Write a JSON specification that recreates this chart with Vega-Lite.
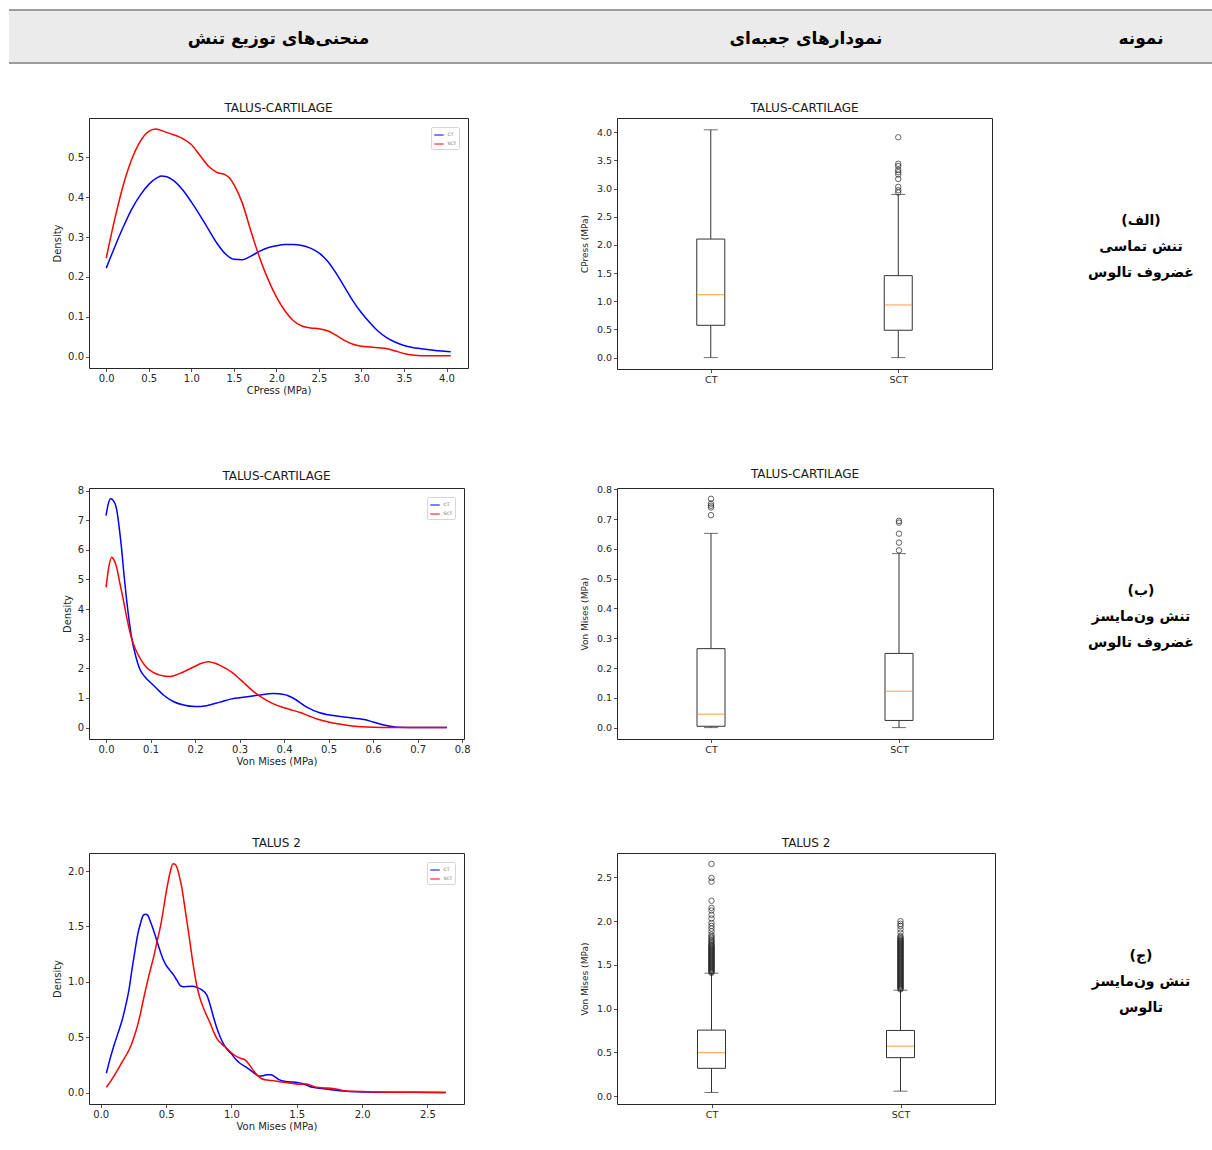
{
  "$schema": "https://vega.github.io/schema/vega-lite/v6.json",
  "padding": {"left": 8, "top": 9, "right": 0, "bottom": 0},
  "bounds": "flush",
  "align": "each",
  "columns": 6,
  "spacing": {"row": 55, "column": 0},
  "resolve": {"scale": {"color": "independent"}, "legend": {"color": "independent"}},
  "config": {
    "font": "DejaVu Sans",
    "view": {"stroke": null},
    "axis": {
      "labelFont": "DejaVu Sans", "labelFontSize": 10, "labelColor": "#262626",
      "titleFont": "DejaVu Sans", "titleFontSize": 10, "titleFontWeight": "normal", "titleColor": "#262626",
      "tickColor": "#262626", "tickSize": 3.5, "tickWidth": 0.8, "labelPadding": 2,
      "domain": false, "grid": false
    },
    "axisX": {"titlePadding": 2},
    "axisY": {"titlePadding": 5},
    "title": {"font": "DejaVu Sans", "fontSize": 12, "fontWeight": "normal", "color": "#1a1a1a", "offset": 3, "frame": "group", "anchor": "middle"},
    "legend": {
      "orient": "top-right", "offset": 9, "title": null, "symbolType": "stroke", "symbolSize": 90,
      "symbolStrokeWidth": 1, "labelFontSize": 4.5, "labelColor": "#555", "padding": 2.5, "rowPadding": 1,
      "strokeColor": "#d6d6d6", "fillColor": "white", "cornerRadius": 1.5, "labelOffset": 3
    }
  },
  "datasets": {
    "edges": [{"e": 0}, {"e": 1}],
    "cells": [
      {"cell": "h1", "t": "منحنی‌های توزیع تنش"},
      {"cell": "h3", "t": "نمودارهای جعبه‌ای"},
      {"cell": "h5", "t": "نمونه"},
      {"cell": "r1", "t": "(الف)\nتنش تماسی\nغضروف تالوس"},
      {"cell": "r2", "t": "(ب)\nتنش ون‌مایسز\nغضروف تالوس"},
      {"cell": "r3", "t": "(ج)\nتنش ون‌مایسز\nتالوس"}
    ],
    "d1": [
      {"s": "CT", "x": 0, "y": 0.222}, {"s": "CT", "x": 0.1, "y": 0.275}, {"s": "CT", "x": 0.2, "y": 0.325}, {"s": "CT", "x": 0.3, "y": 0.37},
      {"s": "CT", "x": 0.4, "y": 0.405}, {"s": "CT", "x": 0.5, "y": 0.432}, {"s": "CT", "x": 0.6, "y": 0.449}, {"s": "CT", "x": 0.65, "y": 0.453},
      {"s": "CT", "x": 0.7, "y": 0.452}, {"s": "CT", "x": 0.8, "y": 0.44}, {"s": "CT", "x": 0.9, "y": 0.418}, {"s": "CT", "x": 1.0, "y": 0.388},
      {"s": "CT", "x": 1.1, "y": 0.355}, {"s": "CT", "x": 1.2, "y": 0.32}, {"s": "CT", "x": 1.3, "y": 0.285}, {"s": "CT", "x": 1.4, "y": 0.258},
      {"s": "CT", "x": 1.5, "y": 0.244}, {"s": "CT", "x": 1.6, "y": 0.243}, {"s": "CT", "x": 1.7, "y": 0.252}, {"s": "CT", "x": 1.8, "y": 0.264},
      {"s": "CT", "x": 1.9, "y": 0.273}, {"s": "CT", "x": 2.0, "y": 0.278}, {"s": "CT", "x": 2.1, "y": 0.281}, {"s": "CT", "x": 2.2, "y": 0.281},
      {"s": "CT", "x": 2.3, "y": 0.279}, {"s": "CT", "x": 2.4, "y": 0.272}, {"s": "CT", "x": 2.5, "y": 0.26}, {"s": "CT", "x": 2.6, "y": 0.24},
      {"s": "CT", "x": 2.7, "y": 0.21}, {"s": "CT", "x": 2.8, "y": 0.175}, {"s": "CT", "x": 2.9, "y": 0.14}, {"s": "CT", "x": 3.0, "y": 0.11},
      {"s": "CT", "x": 3.1, "y": 0.085}, {"s": "CT", "x": 3.2, "y": 0.063}, {"s": "CT", "x": 3.3, "y": 0.047}, {"s": "CT", "x": 3.4, "y": 0.036},
      {"s": "CT", "x": 3.5, "y": 0.028}, {"s": "CT", "x": 3.6, "y": 0.023}, {"s": "CT", "x": 3.7, "y": 0.02}, {"s": "CT", "x": 3.8, "y": 0.017},
      {"s": "CT", "x": 3.9, "y": 0.015}, {"s": "CT", "x": 4.05, "y": 0.012},
      {"s": "SCT", "x": 0, "y": 0.247}, {"s": "SCT", "x": 0.1, "y": 0.345}, {"s": "SCT", "x": 0.2, "y": 0.43}, {"s": "SCT", "x": 0.3, "y": 0.495},
      {"s": "SCT", "x": 0.4, "y": 0.54}, {"s": "SCT", "x": 0.5, "y": 0.565}, {"s": "SCT", "x": 0.58, "y": 0.571}, {"s": "SCT", "x": 0.7, "y": 0.563},
      {"s": "SCT", "x": 0.8, "y": 0.556}, {"s": "SCT", "x": 0.9, "y": 0.547}, {"s": "SCT", "x": 1.0, "y": 0.532}, {"s": "SCT", "x": 1.1, "y": 0.505},
      {"s": "SCT", "x": 1.2, "y": 0.478}, {"s": "SCT", "x": 1.3, "y": 0.462}, {"s": "SCT", "x": 1.4, "y": 0.456}, {"s": "SCT", "x": 1.45, "y": 0.448},
      {"s": "SCT", "x": 1.5, "y": 0.432}, {"s": "SCT", "x": 1.6, "y": 0.385}, {"s": "SCT", "x": 1.7, "y": 0.315}, {"s": "SCT", "x": 1.8, "y": 0.25},
      {"s": "SCT", "x": 1.9, "y": 0.195}, {"s": "SCT", "x": 2.0, "y": 0.15}, {"s": "SCT", "x": 2.1, "y": 0.115}, {"s": "SCT", "x": 2.2, "y": 0.09},
      {"s": "SCT", "x": 2.3, "y": 0.077}, {"s": "SCT", "x": 2.4, "y": 0.072}, {"s": "SCT", "x": 2.5, "y": 0.07}, {"s": "SCT", "x": 2.6, "y": 0.065},
      {"s": "SCT", "x": 2.7, "y": 0.054}, {"s": "SCT", "x": 2.8, "y": 0.041}, {"s": "SCT", "x": 2.9, "y": 0.031}, {"s": "SCT", "x": 3.0, "y": 0.026},
      {"s": "SCT", "x": 3.1, "y": 0.024}, {"s": "SCT", "x": 3.2, "y": 0.022}, {"s": "SCT", "x": 3.3, "y": 0.02}, {"s": "SCT", "x": 3.4, "y": 0.014},
      {"s": "SCT", "x": 3.5, "y": 0.008}, {"s": "SCT", "x": 3.6, "y": 0.004}, {"s": "SCT", "x": 3.7, "y": 0.002}, {"s": "SCT", "x": 4.05, "y": 0.002}
    ],
    "d2": [
      {"s": "CT", "x": 0, "y": 7.15}, {"s": "CT", "x": 0.005, "y": 7.55}, {"s": "CT", "x": 0.0105, "y": 7.72}, {"s": "CT", "x": 0.017, "y": 7.65},
      {"s": "CT", "x": 0.024, "y": 7.35}, {"s": "CT", "x": 0.03, "y": 6.7}, {"s": "CT", "x": 0.035, "y": 6.03}, {"s": "CT", "x": 0.04, "y": 5.2},
      {"s": "CT", "x": 0.046, "y": 4.34}, {"s": "CT", "x": 0.052, "y": 3.6}, {"s": "CT", "x": 0.058, "y": 2.99}, {"s": "CT", "x": 0.066, "y": 2.45},
      {"s": "CT", "x": 0.076, "y": 1.97}, {"s": "CT", "x": 0.088, "y": 1.7}, {"s": "CT", "x": 0.1, "y": 1.52}, {"s": "CT", "x": 0.115, "y": 1.3},
      {"s": "CT", "x": 0.129, "y": 1.1}, {"s": "CT", "x": 0.151, "y": 0.88}, {"s": "CT", "x": 0.174, "y": 0.76}, {"s": "CT", "x": 0.2, "y": 0.71},
      {"s": "CT", "x": 0.226, "y": 0.74}, {"s": "CT", "x": 0.256, "y": 0.86}, {"s": "CT", "x": 0.28, "y": 0.96}, {"s": "CT", "x": 0.3, "y": 1.01},
      {"s": "CT", "x": 0.339, "y": 1.09}, {"s": "CT", "x": 0.376, "y": 1.15}, {"s": "CT", "x": 0.4, "y": 1.12}, {"s": "CT", "x": 0.42, "y": 1.0},
      {"s": "CT", "x": 0.45, "y": 0.7}, {"s": "CT", "x": 0.48, "y": 0.5}, {"s": "CT", "x": 0.5, "y": 0.43}, {"s": "CT", "x": 0.54, "y": 0.35},
      {"s": "CT", "x": 0.58, "y": 0.27}, {"s": "CT", "x": 0.6, "y": 0.19}, {"s": "CT", "x": 0.63, "y": 0.07}, {"s": "CT", "x": 0.65, "y": 0.02},
      {"s": "CT", "x": 0.68, "y": 0.005}, {"s": "CT", "x": 0.72, "y": 0}, {"s": "CT", "x": 0.766, "y": 0},
      {"s": "SCT", "x": 0, "y": 4.73}, {"s": "SCT", "x": 0.006, "y": 5.4}, {"s": "SCT", "x": 0.0127, "y": 5.75}, {"s": "SCT", "x": 0.018, "y": 5.65},
      {"s": "SCT", "x": 0.024, "y": 5.4}, {"s": "SCT", "x": 0.03, "y": 4.95}, {"s": "SCT", "x": 0.039, "y": 4.3}, {"s": "SCT", "x": 0.046, "y": 3.75},
      {"s": "SCT", "x": 0.054, "y": 3.2}, {"s": "SCT", "x": 0.061, "y": 2.85}, {"s": "SCT", "x": 0.069, "y": 2.55}, {"s": "SCT", "x": 0.08, "y": 2.25},
      {"s": "SCT", "x": 0.091, "y": 2.03}, {"s": "SCT", "x": 0.105, "y": 1.87}, {"s": "SCT", "x": 0.121, "y": 1.77}, {"s": "SCT", "x": 0.144, "y": 1.72},
      {"s": "SCT", "x": 0.166, "y": 1.83}, {"s": "SCT", "x": 0.185, "y": 1.96}, {"s": "SCT", "x": 0.2, "y": 2.07}, {"s": "SCT", "x": 0.215, "y": 2.17},
      {"s": "SCT", "x": 0.23, "y": 2.22}, {"s": "SCT", "x": 0.245, "y": 2.17}, {"s": "SCT", "x": 0.256, "y": 2.1}, {"s": "SCT", "x": 0.27, "y": 1.99},
      {"s": "SCT", "x": 0.283, "y": 1.86}, {"s": "SCT", "x": 0.296, "y": 1.7}, {"s": "SCT", "x": 0.309, "y": 1.52}, {"s": "SCT", "x": 0.325, "y": 1.3},
      {"s": "SCT", "x": 0.339, "y": 1.13}, {"s": "SCT", "x": 0.357, "y": 0.95}, {"s": "SCT", "x": 0.376, "y": 0.8}, {"s": "SCT", "x": 0.4, "y": 0.67},
      {"s": "SCT", "x": 0.42, "y": 0.58}, {"s": "SCT", "x": 0.436, "y": 0.51}, {"s": "SCT", "x": 0.455, "y": 0.4}, {"s": "SCT", "x": 0.474, "y": 0.29},
      {"s": "SCT", "x": 0.5, "y": 0.19}, {"s": "SCT", "x": 0.52, "y": 0.13}, {"s": "SCT", "x": 0.541, "y": 0.08}, {"s": "SCT", "x": 0.565, "y": 0.04},
      {"s": "SCT", "x": 0.586, "y": 0.02}, {"s": "SCT", "x": 0.62, "y": 0.006}, {"s": "SCT", "x": 0.68, "y": 0}, {"s": "SCT", "x": 0.766, "y": 0}
    ],
    "d3": [
      {"s": "CT", "x": 0.043, "y": 0.175}, {"s": "CT", "x": 0.07, "y": 0.3}, {"s": "CT", "x": 0.1, "y": 0.42}, {"s": "CT", "x": 0.13, "y": 0.53},
      {"s": "CT", "x": 0.165, "y": 0.66}, {"s": "CT", "x": 0.19, "y": 0.78}, {"s": "CT", "x": 0.216, "y": 0.93}, {"s": "CT", "x": 0.24, "y": 1.12},
      {"s": "CT", "x": 0.267, "y": 1.32}, {"s": "CT", "x": 0.285, "y": 1.44}, {"s": "CT", "x": 0.305, "y": 1.53}, {"s": "CT", "x": 0.325, "y": 1.6},
      {"s": "CT", "x": 0.343, "y": 1.61}, {"s": "CT", "x": 0.36, "y": 1.6}, {"s": "CT", "x": 0.381, "y": 1.54}, {"s": "CT", "x": 0.4, "y": 1.48},
      {"s": "CT", "x": 0.419, "y": 1.41}, {"s": "CT", "x": 0.44, "y": 1.33}, {"s": "CT", "x": 0.457, "y": 1.27}, {"s": "CT", "x": 0.475, "y": 1.21},
      {"s": "CT", "x": 0.495, "y": 1.16}, {"s": "CT", "x": 0.525, "y": 1.11}, {"s": "CT", "x": 0.558, "y": 1.06}, {"s": "CT", "x": 0.585, "y": 1.01},
      {"s": "CT", "x": 0.609, "y": 0.965}, {"s": "CT", "x": 0.635, "y": 0.955}, {"s": "CT", "x": 0.66, "y": 0.958}, {"s": "CT", "x": 0.7, "y": 0.96},
      {"s": "CT", "x": 0.736, "y": 0.95}, {"s": "CT", "x": 0.77, "y": 0.93}, {"s": "CT", "x": 0.812, "y": 0.88}, {"s": "CT", "x": 0.84, "y": 0.78},
      {"s": "CT", "x": 0.863, "y": 0.68}, {"s": "CT", "x": 0.895, "y": 0.56}, {"s": "CT", "x": 0.926, "y": 0.47}, {"s": "CT", "x": 0.96, "y": 0.4},
      {"s": "CT", "x": 1.0, "y": 0.35}, {"s": "CT", "x": 1.033, "y": 0.3}, {"s": "CT", "x": 1.066, "y": 0.265}, {"s": "CT", "x": 1.105, "y": 0.235},
      {"s": "CT", "x": 1.142, "y": 0.205}, {"s": "CT", "x": 1.18, "y": 0.17}, {"s": "CT", "x": 1.218, "y": 0.148}, {"s": "CT", "x": 1.245, "y": 0.153},
      {"s": "CT", "x": 1.269, "y": 0.16}, {"s": "CT", "x": 1.3, "y": 0.16}, {"s": "CT", "x": 1.33, "y": 0.145}, {"s": "CT", "x": 1.36, "y": 0.12},
      {"s": "CT", "x": 1.396, "y": 0.105}, {"s": "CT", "x": 1.435, "y": 0.097}, {"s": "CT", "x": 1.472, "y": 0.095}, {"s": "CT", "x": 1.51, "y": 0.09},
      {"s": "CT", "x": 1.548, "y": 0.08}, {"s": "CT", "x": 1.59, "y": 0.06}, {"s": "CT", "x": 1.624, "y": 0.047}, {"s": "CT", "x": 1.69, "y": 0.036},
      {"s": "CT", "x": 1.75, "y": 0.028}, {"s": "CT", "x": 1.815, "y": 0.018}, {"s": "CT", "x": 1.878, "y": 0.011}, {"s": "CT", "x": 1.95, "y": 0.007},
      {"s": "CT", "x": 2.0, "y": 0.005}, {"s": "CT", "x": 2.1, "y": 0.004}, {"s": "CT", "x": 2.21, "y": 0.003}, {"s": "CT", "x": 2.4, "y": 0.002},
      {"s": "CT", "x": 2.64, "y": 0.001},
      {"s": "SCT", "x": 0.043, "y": 0.048}, {"s": "SCT", "x": 0.08, "y": 0.11}, {"s": "SCT", "x": 0.127, "y": 0.2}, {"s": "SCT", "x": 0.165, "y": 0.28},
      {"s": "SCT", "x": 0.203, "y": 0.355}, {"s": "SCT", "x": 0.23, "y": 0.42}, {"s": "SCT", "x": 0.254, "y": 0.5}, {"s": "SCT", "x": 0.28, "y": 0.6},
      {"s": "SCT", "x": 0.305, "y": 0.72}, {"s": "SCT", "x": 0.33, "y": 0.86}, {"s": "SCT", "x": 0.355, "y": 0.99}, {"s": "SCT", "x": 0.38, "y": 1.11},
      {"s": "SCT", "x": 0.406, "y": 1.23}, {"s": "SCT", "x": 0.43, "y": 1.36}, {"s": "SCT", "x": 0.457, "y": 1.5}, {"s": "SCT", "x": 0.475, "y": 1.62},
      {"s": "SCT", "x": 0.495, "y": 1.77}, {"s": "SCT", "x": 0.515, "y": 1.9}, {"s": "SCT", "x": 0.533, "y": 2.0}, {"s": "SCT", "x": 0.553, "y": 2.065},
      {"s": "SCT", "x": 0.57, "y": 2.06}, {"s": "SCT", "x": 0.584, "y": 2.03}, {"s": "SCT", "x": 0.6, "y": 1.96}, {"s": "SCT", "x": 0.622, "y": 1.84},
      {"s": "SCT", "x": 0.64, "y": 1.7}, {"s": "SCT", "x": 0.66, "y": 1.54}, {"s": "SCT", "x": 0.68, "y": 1.38}, {"s": "SCT", "x": 0.698, "y": 1.23},
      {"s": "SCT", "x": 0.716, "y": 1.09}, {"s": "SCT", "x": 0.736, "y": 0.96}, {"s": "SCT", "x": 0.76, "y": 0.85}, {"s": "SCT", "x": 0.787, "y": 0.76},
      {"s": "SCT", "x": 0.813, "y": 0.69}, {"s": "SCT", "x": 0.838, "y": 0.625}, {"s": "SCT", "x": 0.863, "y": 0.55}, {"s": "SCT", "x": 0.888, "y": 0.49},
      {"s": "SCT", "x": 0.925, "y": 0.44}, {"s": "SCT", "x": 0.964, "y": 0.4}, {"s": "SCT", "x": 1.0, "y": 0.36}, {"s": "SCT", "x": 1.04, "y": 0.325},
      {"s": "SCT", "x": 1.07, "y": 0.31}, {"s": "SCT", "x": 1.104, "y": 0.295}, {"s": "SCT", "x": 1.135, "y": 0.255}, {"s": "SCT", "x": 1.168, "y": 0.2},
      {"s": "SCT", "x": 1.2, "y": 0.155}, {"s": "SCT", "x": 1.231, "y": 0.125}, {"s": "SCT", "x": 1.275, "y": 0.113}, {"s": "SCT", "x": 1.32, "y": 0.108},
      {"s": "SCT", "x": 1.37, "y": 0.098}, {"s": "SCT", "x": 1.421, "y": 0.09}, {"s": "SCT", "x": 1.47, "y": 0.082}, {"s": "SCT", "x": 1.523, "y": 0.075},
      {"s": "SCT", "x": 1.574, "y": 0.078}, {"s": "SCT", "x": 1.61, "y": 0.065}, {"s": "SCT", "x": 1.65, "y": 0.048}, {"s": "SCT", "x": 1.71, "y": 0.042},
      {"s": "SCT", "x": 1.777, "y": 0.037}, {"s": "SCT", "x": 1.83, "y": 0.025}, {"s": "SCT", "x": 1.878, "y": 0.015}, {"s": "SCT", "x": 1.94, "y": 0.011},
      {"s": "SCT", "x": 2.0, "y": 0.009}, {"s": "SCT", "x": 2.1, "y": 0.006}, {"s": "SCT", "x": 2.3, "y": 0.003}, {"s": "SCT", "x": 2.64, "y": 0.001}
    ],
    "boxes": [
      {"panel": "b1", "group": "CT", "lo": 0, "q1": 0.573, "med": 1.117, "q3": 2.104, "hi": 4.043},
      {"panel": "b1", "group": "SCT", "lo": 0, "q1": 0.485, "med": 0.934, "q3": 1.454, "hi": 2.896},
      {"panel": "b2", "group": "CT", "lo": 0, "q1": 0.0045, "med": 0.045, "q3": 0.265, "hi": 0.652},
      {"panel": "b2", "group": "SCT", "lo": 0, "q1": 0.024, "med": 0.122, "q3": 0.249, "hi": 0.584},
      {"panel": "b3", "group": "CT", "lo": 0.042, "q1": 0.318, "med": 0.498, "q3": 0.755, "hi": 1.406},
      {"panel": "b3", "group": "SCT", "lo": 0.057, "q1": 0.44, "med": 0.571, "q3": 0.751, "hi": 1.211}
    ],
    "fliers": [
      {"panel": "b1", "group": "SCT", "v": 3.91}, {"panel": "b1", "group": "SCT", "v": 3.44}, {"panel": "b1", "group": "SCT", "v": 3.4},
      {"panel": "b1", "group": "SCT", "v": 3.33}, {"panel": "b1", "group": "SCT", "v": 3.29}, {"panel": "b1", "group": "SCT", "v": 3.25},
      {"panel": "b1", "group": "SCT", "v": 3.17}, {"panel": "b1", "group": "SCT", "v": 3.03}, {"panel": "b1", "group": "SCT", "v": 2.97},
      {"panel": "b1", "group": "SCT", "v": 2.93},
      {"panel": "b2", "group": "CT", "v": 0.768}, {"panel": "b2", "group": "CT", "v": 0.752}, {"panel": "b2", "group": "CT", "v": 0.745},
      {"panel": "b2", "group": "CT", "v": 0.739}, {"panel": "b2", "group": "CT", "v": 0.713},
      {"panel": "b2", "group": "SCT", "v": 0.694}, {"panel": "b2", "group": "SCT", "v": 0.688}, {"panel": "b2", "group": "SCT", "v": 0.651},
      {"panel": "b2", "group": "SCT", "v": 0.621}, {"panel": "b2", "group": "SCT", "v": 0.595},
      {"panel": "b3", "group": "CT", "v": 1.41}, {"panel": "b3", "group": "CT", "v": 1.42}, {"panel": "b3", "group": "CT", "v": 1.43},
      {"panel": "b3", "group": "CT", "v": 1.44}, {"panel": "b3", "group": "CT", "v": 1.45}, {"panel": "b3", "group": "CT", "v": 1.46},
      {"panel": "b3", "group": "CT", "v": 1.47}, {"panel": "b3", "group": "CT", "v": 1.48}, {"panel": "b3", "group": "CT", "v": 1.49},
      {"panel": "b3", "group": "CT", "v": 1.5}, {"panel": "b3", "group": "CT", "v": 1.51}, {"panel": "b3", "group": "CT", "v": 1.52},
      {"panel": "b3", "group": "CT", "v": 1.53}, {"panel": "b3", "group": "CT", "v": 1.54}, {"panel": "b3", "group": "CT", "v": 1.55},
      {"panel": "b3", "group": "CT", "v": 1.56}, {"panel": "b3", "group": "CT", "v": 1.57}, {"panel": "b3", "group": "CT", "v": 1.58},
      {"panel": "b3", "group": "CT", "v": 1.59}, {"panel": "b3", "group": "CT", "v": 1.6}, {"panel": "b3", "group": "CT", "v": 1.61},
      {"panel": "b3", "group": "CT", "v": 1.62}, {"panel": "b3", "group": "CT", "v": 1.63}, {"panel": "b3", "group": "CT", "v": 1.64},
      {"panel": "b3", "group": "CT", "v": 1.65}, {"panel": "b3", "group": "CT", "v": 1.66}, {"panel": "b3", "group": "CT", "v": 1.67},
      {"panel": "b3", "group": "CT", "v": 1.68}, {"panel": "b3", "group": "CT", "v": 1.69}, {"panel": "b3", "group": "CT", "v": 1.7},
      {"panel": "b3", "group": "CT", "v": 1.71}, {"panel": "b3", "group": "CT", "v": 1.72}, {"panel": "b3", "group": "CT", "v": 1.73},
      {"panel": "b3", "group": "CT", "v": 1.745}, {"panel": "b3", "group": "CT", "v": 1.76}, {"panel": "b3", "group": "CT", "v": 1.775},
      {"panel": "b3", "group": "CT", "v": 1.79}, {"panel": "b3", "group": "CT", "v": 1.81}, {"panel": "b3", "group": "CT", "v": 1.825},
      {"panel": "b3", "group": "CT", "v": 1.847}, {"panel": "b3", "group": "CT", "v": 1.885}, {"panel": "b3", "group": "CT", "v": 1.916},
      {"panel": "b3", "group": "CT", "v": 1.946}, {"panel": "b3", "group": "CT", "v": 1.98}, {"panel": "b3", "group": "CT", "v": 2.03},
      {"panel": "b3", "group": "CT", "v": 2.073}, {"panel": "b3", "group": "CT", "v": 2.123}, {"panel": "b3", "group": "CT", "v": 2.153},
      {"panel": "b3", "group": "CT", "v": 2.234}, {"panel": "b3", "group": "CT", "v": 2.452}, {"panel": "b3", "group": "CT", "v": 2.494},
      {"panel": "b3", "group": "CT", "v": 2.655},
      {"panel": "b3", "group": "SCT", "v": 1.22}, {"panel": "b3", "group": "SCT", "v": 1.23}, {"panel": "b3", "group": "SCT", "v": 1.24},
      {"panel": "b3", "group": "SCT", "v": 1.25}, {"panel": "b3", "group": "SCT", "v": 1.26}, {"panel": "b3", "group": "SCT", "v": 1.27},
      {"panel": "b3", "group": "SCT", "v": 1.28}, {"panel": "b3", "group": "SCT", "v": 1.29}, {"panel": "b3", "group": "SCT", "v": 1.3},
      {"panel": "b3", "group": "SCT", "v": 1.31}, {"panel": "b3", "group": "SCT", "v": 1.32}, {"panel": "b3", "group": "SCT", "v": 1.33},
      {"panel": "b3", "group": "SCT", "v": 1.34}, {"panel": "b3", "group": "SCT", "v": 1.35}, {"panel": "b3", "group": "SCT", "v": 1.36},
      {"panel": "b3", "group": "SCT", "v": 1.37}, {"panel": "b3", "group": "SCT", "v": 1.38}, {"panel": "b3", "group": "SCT", "v": 1.39},
      {"panel": "b3", "group": "SCT", "v": 1.4}, {"panel": "b3", "group": "SCT", "v": 1.41}, {"panel": "b3", "group": "SCT", "v": 1.42},
      {"panel": "b3", "group": "SCT", "v": 1.43}, {"panel": "b3", "group": "SCT", "v": 1.44}, {"panel": "b3", "group": "SCT", "v": 1.45},
      {"panel": "b3", "group": "SCT", "v": 1.46}, {"panel": "b3", "group": "SCT", "v": 1.47}, {"panel": "b3", "group": "SCT", "v": 1.48},
      {"panel": "b3", "group": "SCT", "v": 1.49}, {"panel": "b3", "group": "SCT", "v": 1.5}, {"panel": "b3", "group": "SCT", "v": 1.51},
      {"panel": "b3", "group": "SCT", "v": 1.52}, {"panel": "b3", "group": "SCT", "v": 1.53}, {"panel": "b3", "group": "SCT", "v": 1.54},
      {"panel": "b3", "group": "SCT", "v": 1.55}, {"panel": "b3", "group": "SCT", "v": 1.56}, {"panel": "b3", "group": "SCT", "v": 1.57},
      {"panel": "b3", "group": "SCT", "v": 1.58}, {"panel": "b3", "group": "SCT", "v": 1.59}, {"panel": "b3", "group": "SCT", "v": 1.6},
      {"panel": "b3", "group": "SCT", "v": 1.61}, {"panel": "b3", "group": "SCT", "v": 1.62}, {"panel": "b3", "group": "SCT", "v": 1.63},
      {"panel": "b3", "group": "SCT", "v": 1.64}, {"panel": "b3", "group": "SCT", "v": 1.65}, {"panel": "b3", "group": "SCT", "v": 1.66},
      {"panel": "b3", "group": "SCT", "v": 1.67}, {"panel": "b3", "group": "SCT", "v": 1.68}, {"panel": "b3", "group": "SCT", "v": 1.69},
      {"panel": "b3", "group": "SCT", "v": 1.7}, {"panel": "b3", "group": "SCT", "v": 1.71}, {"panel": "b3", "group": "SCT", "v": 1.72},
      {"panel": "b3", "group": "SCT", "v": 1.73}, {"panel": "b3", "group": "SCT", "v": 1.74}, {"panel": "b3", "group": "SCT", "v": 1.75},
      {"panel": "b3", "group": "SCT", "v": 1.76}, {"panel": "b3", "group": "SCT", "v": 1.77}, {"panel": "b3", "group": "SCT", "v": 1.78},
      {"panel": "b3", "group": "SCT", "v": 1.79}, {"panel": "b3", "group": "SCT", "v": 1.8}, {"panel": "b3", "group": "SCT", "v": 1.815},
      {"panel": "b3", "group": "SCT", "v": 1.83}, {"panel": "b3", "group": "SCT", "v": 1.87}, {"panel": "b3", "group": "SCT", "v": 1.908},
      {"panel": "b3", "group": "SCT", "v": 1.946}, {"panel": "b3", "group": "SCT", "v": 1.97}, {"panel": "b3", "group": "SCT", "v": 2.0}
    ]
  },
  "concat": [
    {
      "width": 80, "height": 53,
      "view": {"fill": "#ebebeb", "stroke": null},
      "data": {"name": "edges"},
      "mark": {"type": "rule", "color": "#9c9c9c", "strokeWidth": 2},
      "encoding": {"y": {"field": "e", "type": "quantitative", "axis": null, "scale": {"domain": [0, 1]}}}
    },
    {
      "width": 379, "height": 53,
      "view": {"fill": "#ebebeb", "stroke": null},
      "layer": [
        {
          "data": {"name": "edges"},
          "mark": {"type": "rule", "color": "#9c9c9c", "strokeWidth": 2},
          "encoding": {"y": {"field": "e", "type": "quantitative", "axis": null, "scale": {"domain": [0, 1]}}}
        },
        {
          "data": {"name": "cells"},
          "transform": [{"filter": "datum.cell === 'h1'"}],
          "mark": {"type": "text", "fontSize": 17, "fontWeight": "bold", "color": "#000000", "baseline": "middle", "dy": 2},
          "encoding": {"text": {"field": "t", "type": "nominal"}}
        }
      ]
    },
    {
      "width": 149, "height": 53,
      "view": {"fill": "#ebebeb", "stroke": null},
      "data": {"name": "edges"},
      "mark": {"type": "rule", "color": "#9c9c9c", "strokeWidth": 2},
      "encoding": {"y": {"field": "e", "type": "quantitative", "axis": null, "scale": {"domain": [0, 1]}}}
    },
    {
      "width": 378, "height": 53,
      "view": {"fill": "#ebebeb", "stroke": null},
      "layer": [
        {
          "data": {"name": "edges"},
          "mark": {"type": "rule", "color": "#9c9c9c", "strokeWidth": 2},
          "encoding": {"y": {"field": "e", "type": "quantitative", "axis": null, "scale": {"domain": [0, 1]}}}
        },
        {
          "data": {"name": "cells"},
          "transform": [{"filter": "datum.cell === 'h3'"}],
          "mark": {"type": "text", "fontSize": 17, "fontWeight": "bold", "color": "#000000", "baseline": "middle", "dy": 2},
          "encoding": {"text": {"field": "t", "type": "nominal"}}
        }
      ]
    },
    {
      "width": 74, "height": 53,
      "view": {"fill": "#ebebeb", "stroke": null},
      "data": {"name": "edges"},
      "mark": {"type": "rule", "color": "#9c9c9c", "strokeWidth": 2},
      "encoding": {"y": {"field": "e", "type": "quantitative", "axis": null, "scale": {"domain": [0, 1]}}}
    },
    {
      "width": 144, "height": 53,
      "view": {"fill": "#ebebeb", "stroke": null},
      "layer": [
        {
          "data": {"name": "edges"},
          "mark": {"type": "rule", "color": "#9c9c9c", "strokeWidth": 2},
          "encoding": {"y": {"field": "e", "type": "quantitative", "axis": null, "scale": {"domain": [0, 1]}}}
        },
        {
          "data": {"name": "cells"},
          "transform": [{"filter": "datum.cell === 'h5'"}],
          "mark": {"type": "text", "fontSize": 17, "fontWeight": "bold", "color": "#000000", "baseline": "middle", "dy": 2},
          "encoding": {"text": {"field": "t", "type": "nominal"}}
        }
      ]
    },

    {"width": 80, "height": 315, "data": {"values": []}, "mark": "point"},
    {
      "width": 379, "height": 250,
      "view": {"stroke": "#262626", "strokeWidth": 1},
      "title": "TALUS-CARTILAGE",
      "data": {"name": "d1"},
      "mark": {"type": "line", "interpolate": "monotone", "strokeWidth": 1.5},
      "encoding": {
        "x": {"field": "x", "type": "quantitative", "scale": {"domain": [-0.2025, 4.2525], "nice": false, "zero": false},
              "axis": {"title": "CPress (MPa)", "values": [0, 0.5, 1, 1.5, 2, 2.5, 3, 3.5, 4], "format": ".1f"}},
        "y": {"field": "y", "type": "quantitative", "scale": {"domain": [-0.0285, 0.5985], "nice": false, "zero": false},
              "axis": {"title": "Density", "values": [0, 0.1, 0.2, 0.3, 0.4, 0.5], "format": ".1f"}},
        "color": {"field": "s", "type": "nominal", "scale": {"domain": ["CT", "SCT"], "range": ["#0000ff", "#ff0000"]}}
      }
    },
    {"width": 149, "height": 1, "data": {"values": []}, "mark": "point"},
    {
      "width": 375, "height": 251,
      "view": {"stroke": "#262626", "strokeWidth": 1},
      "title": "TALUS-CARTILAGE",
      "encoding": {
        "x": {"field": "group", "type": "nominal", "scale": {"type": "point", "domain": ["CT", "SCT"], "padding": 0.5},
              "axis": {"title": null, "labelAngle": 0, "labelFontSize": 9.5}}
      },
      "layer": [
        {
          "data": {"name": "boxes"}, "transform": [{"filter": "datum.panel === 'b1'"}],
          "mark": {"type": "rule", "color": "#333333", "strokeWidth": 1},
          "encoding": {
            "y": {"field": "lo", "type": "quantitative", "title": "CPress (MPa)", "scale": {"domain": [-0.2025, 4.2525], "nice": false, "zero": false},
                  "axis": {"values": [0, 0.5, 1, 1.5, 2, 2.5, 3, 3.5, 4], "format": ".1f", "labelFontSize": 9.5, "titleFontSize": 9, "titlePadding": 7, "labelOverlap": false}},
            "y2": {"field": "q1"}
          }
        },
        {
          "data": {"name": "boxes"}, "transform": [{"filter": "datum.panel === 'b1'"}],
          "mark": {"type": "rule", "color": "#333333", "strokeWidth": 1},
          "encoding": {
            "y": {"field": "q3", "type": "quantitative", "title": "CPress (MPa)", "scale": {"domain": [-0.2025, 4.2525], "nice": false, "zero": false},
                  "axis": {"values": [0, 0.5, 1, 1.5, 2, 2.5, 3, 3.5, 4], "format": ".1f", "labelFontSize": 9.5, "titleFontSize": 9, "titlePadding": 7, "labelOverlap": false}},
            "y2": {"field": "hi"}
          }
        },
        {
          "data": {"name": "boxes"}, "transform": [{"filter": "datum.panel === 'b1'"}],
          "mark": {"type": "bar", "size": 28, "fill": "white", "stroke": "#333333", "strokeWidth": 1},
          "encoding": {
            "y": {"field": "q1", "type": "quantitative", "title": "CPress (MPa)", "scale": {"domain": [-0.2025, 4.2525], "nice": false, "zero": false},
                  "axis": {"values": [0, 0.5, 1, 1.5, 2, 2.5, 3, 3.5, 4], "format": ".1f", "labelFontSize": 9.5, "titleFontSize": 9, "titlePadding": 7, "labelOverlap": false}},
            "y2": {"field": "q3"}
          }
        },
        {
          "data": {"name": "boxes"}, "transform": [{"filter": "datum.panel === 'b1'"}],
          "mark": {"type": "tick", "size": 14, "thickness": 1, "color": "#333333"},
          "encoding": {"y": {"field": "lo", "type": "quantitative", "title": "CPress (MPa)", "scale": {"domain": [-0.2025, 4.2525], "nice": false, "zero": false},
                  "axis": {"values": [0, 0.5, 1, 1.5, 2, 2.5, 3, 3.5, 4], "format": ".1f", "labelFontSize": 9.5, "titleFontSize": 9, "titlePadding": 7, "labelOverlap": false}}}
        },
        {
          "data": {"name": "boxes"}, "transform": [{"filter": "datum.panel === 'b1'"}],
          "mark": {"type": "tick", "size": 14, "thickness": 1, "color": "#333333"},
          "encoding": {"y": {"field": "hi", "type": "quantitative", "title": "CPress (MPa)", "scale": {"domain": [-0.2025, 4.2525], "nice": false, "zero": false},
                  "axis": {"values": [0, 0.5, 1, 1.5, 2, 2.5, 3, 3.5, 4], "format": ".1f", "labelFontSize": 9.5, "titleFontSize": 9, "titlePadding": 7, "labelOverlap": false}}}
        },
        {
          "data": {"name": "boxes"}, "transform": [{"filter": "datum.panel === 'b1'"}],
          "mark": {"type": "tick", "size": 27, "thickness": 1.2, "color": "#ff8c1a"},
          "encoding": {"y": {"field": "med", "type": "quantitative", "title": "CPress (MPa)", "scale": {"domain": [-0.2025, 4.2525], "nice": false, "zero": false},
                  "axis": {"values": [0, 0.5, 1, 1.5, 2, 2.5, 3, 3.5, 4], "format": ".1f", "labelFontSize": 9.5, "titleFontSize": 9, "titlePadding": 7, "labelOverlap": false}}}
        },
        {
          "data": {"name": "fliers"}, "transform": [{"filter": "datum.panel === 'b1'"}],
          "mark": {"type": "point", "shape": "circle", "filled": false, "size": 30, "stroke": "#222222", "strokeWidth": 1},
          "encoding": {"y": {"field": "v", "type": "quantitative", "title": "CPress (MPa)", "scale": {"domain": [-0.2025, 4.2525], "nice": false, "zero": false},
                  "axis": {"values": [0, 0.5, 1, 1.5, 2, 2.5, 3, 3.5, 4], "format": ".1f", "labelFontSize": 9.5, "titleFontSize": 9, "titlePadding": 7, "labelOverlap": false}}}
        }
      ]
    },
    {"width": 74, "height": 1, "data": {"values": []}, "mark": "point"},
    {
      "width": 144, "height": 251,
      "data": {"name": "cells"},
      "transform": [{"filter": "datum.cell === 'r1'"}],
      "mark": {"type": "text", "fontSize": 14, "fontWeight": "bold", "color": "#000000", "lineBreak": "\n", "lineHeight": 26, "baseline": "middle", "dy": -23},
      "encoding": {"text": {"field": "t", "type": "nominal"}}
    },

    {"width": 80, "height": 310, "data": {"values": []}, "mark": "point"},
    {
      "width": 375, "height": 251,
      "view": {"stroke": "#262626", "strokeWidth": 1},
      "title": "TALUS-CARTILAGE",
      "data": {"name": "d2"},
      "mark": {"type": "line", "interpolate": "monotone", "strokeWidth": 1.5},
      "encoding": {
        "x": {"field": "x", "type": "quantitative", "scale": {"domain": [-0.0383, 0.8043], "nice": false, "zero": false},
              "axis": {"title": "Von Mises (MPa)", "values": [0, 0.1, 0.2, 0.3, 0.4, 0.5, 0.6, 0.7, 0.8], "format": ".1f"}},
        "y": {"field": "y", "type": "quantitative", "scale": {"domain": [-0.385, 8.085], "nice": false, "zero": false},
              "axis": {"title": "Density", "values": [0, 1, 2, 3, 4, 5, 6, 7, 8], "format": "d"}},
        "color": {"field": "s", "type": "nominal", "scale": {"domain": ["CT", "SCT"], "range": ["#0000ff", "#ff0000"]}}
      }
    },
    {"width": 149, "height": 1, "data": {"values": []}, "mark": "point"},
    {
      "width": 376, "height": 251,
      "view": {"stroke": "#262626", "strokeWidth": 1},
      "title": "TALUS-CARTILAGE",
      "encoding": {
        "x": {"field": "group", "type": "nominal", "scale": {"type": "point", "domain": ["CT", "SCT"], "padding": 0.5},
              "axis": {"title": null, "labelAngle": 0, "labelFontSize": 9.5}}
      },
      "layer": [
        {
          "data": {"name": "boxes"}, "transform": [{"filter": "datum.panel === 'b2'"}],
          "mark": {"type": "rule", "color": "#333333", "strokeWidth": 1},
          "encoding": {
            "y": {"field": "lo", "type": "quantitative", "title": "Von Mises (MPa)", "scale": {"domain": [-0.0383, 0.8043], "nice": false, "zero": false},
                  "axis": {"values": [0, 0.1, 0.2, 0.3, 0.4, 0.5, 0.6, 0.7, 0.8], "format": ".1f", "labelFontSize": 9.5, "titleFontSize": 9, "titlePadding": 7, "labelOverlap": false}},
            "y2": {"field": "q1"}
          }
        },
        {
          "data": {"name": "boxes"}, "transform": [{"filter": "datum.panel === 'b2'"}],
          "mark": {"type": "rule", "color": "#333333", "strokeWidth": 1},
          "encoding": {
            "y": {"field": "q3", "type": "quantitative", "title": "Von Mises (MPa)", "scale": {"domain": [-0.0383, 0.8043], "nice": false, "zero": false},
                  "axis": {"values": [0, 0.1, 0.2, 0.3, 0.4, 0.5, 0.6, 0.7, 0.8], "format": ".1f", "labelFontSize": 9.5, "titleFontSize": 9, "titlePadding": 7, "labelOverlap": false}},
            "y2": {"field": "hi"}
          }
        },
        {
          "data": {"name": "boxes"}, "transform": [{"filter": "datum.panel === 'b2'"}],
          "mark": {"type": "bar", "size": 28, "fill": "white", "stroke": "#333333", "strokeWidth": 1},
          "encoding": {
            "y": {"field": "q1", "type": "quantitative", "title": "Von Mises (MPa)", "scale": {"domain": [-0.0383, 0.8043], "nice": false, "zero": false},
                  "axis": {"values": [0, 0.1, 0.2, 0.3, 0.4, 0.5, 0.6, 0.7, 0.8], "format": ".1f", "labelFontSize": 9.5, "titleFontSize": 9, "titlePadding": 7, "labelOverlap": false}},
            "y2": {"field": "q3"}
          }
        },
        {
          "data": {"name": "boxes"}, "transform": [{"filter": "datum.panel === 'b2'"}],
          "mark": {"type": "tick", "size": 14, "thickness": 1, "color": "#333333"},
          "encoding": {"y": {"field": "lo", "type": "quantitative", "title": "Von Mises (MPa)", "scale": {"domain": [-0.0383, 0.8043], "nice": false, "zero": false},
                  "axis": {"values": [0, 0.1, 0.2, 0.3, 0.4, 0.5, 0.6, 0.7, 0.8], "format": ".1f", "labelFontSize": 9.5, "titleFontSize": 9, "titlePadding": 7, "labelOverlap": false}}}
        },
        {
          "data": {"name": "boxes"}, "transform": [{"filter": "datum.panel === 'b2'"}],
          "mark": {"type": "tick", "size": 14, "thickness": 1, "color": "#333333"},
          "encoding": {"y": {"field": "hi", "type": "quantitative", "title": "Von Mises (MPa)", "scale": {"domain": [-0.0383, 0.8043], "nice": false, "zero": false},
                  "axis": {"values": [0, 0.1, 0.2, 0.3, 0.4, 0.5, 0.6, 0.7, 0.8], "format": ".1f", "labelFontSize": 9.5, "titleFontSize": 9, "titlePadding": 7, "labelOverlap": false}}}
        },
        {
          "data": {"name": "boxes"}, "transform": [{"filter": "datum.panel === 'b2'"}],
          "mark": {"type": "tick", "size": 27, "thickness": 1.2, "color": "#ff8c1a"},
          "encoding": {"y": {"field": "med", "type": "quantitative", "title": "Von Mises (MPa)", "scale": {"domain": [-0.0383, 0.8043], "nice": false, "zero": false},
                  "axis": {"values": [0, 0.1, 0.2, 0.3, 0.4, 0.5, 0.6, 0.7, 0.8], "format": ".1f", "labelFontSize": 9.5, "titleFontSize": 9, "titlePadding": 7, "labelOverlap": false}}}
        },
        {
          "data": {"name": "fliers"}, "transform": [{"filter": "datum.panel === 'b2'"}],
          "mark": {"type": "point", "shape": "circle", "filled": false, "size": 30, "stroke": "#222222", "strokeWidth": 1},
          "encoding": {"y": {"field": "v", "type": "quantitative", "title": "Von Mises (MPa)", "scale": {"domain": [-0.0383, 0.8043], "nice": false, "zero": false},
                  "axis": {"values": [0, 0.1, 0.2, 0.3, 0.4, 0.5, 0.6, 0.7, 0.8], "format": ".1f", "labelFontSize": 9.5, "titleFontSize": 9, "titlePadding": 7, "labelOverlap": false}}}
        }
      ]
    },
    {"width": 74, "height": 1, "data": {"values": []}, "mark": "point"},
    {
      "width": 144, "height": 251,
      "data": {"name": "cells"},
      "transform": [{"filter": "datum.cell === 'r2'"}],
      "mark": {"type": "text", "fontSize": 14, "fontWeight": "bold", "color": "#000000", "lineBreak": "\n", "lineHeight": 26, "baseline": "middle", "dy": -23},
      "encoding": {"text": {"field": "t", "type": "nominal"}}
    },

    {"width": 80, "height": 1, "data": {"values": []}, "mark": "point"},
    {
      "width": 375, "height": 251,
      "view": {"stroke": "#262626", "strokeWidth": 1},
      "title": "TALUS 2",
      "data": {"name": "d3"},
      "mark": {"type": "line", "interpolate": "monotone", "strokeWidth": 1.5},
      "encoding": {
        "x": {"field": "x", "type": "quantitative", "scale": {"domain": [-0.09, 2.78], "nice": false, "zero": false},
              "axis": {"title": "Von Mises (MPa)", "values": [0, 0.5, 1, 1.5, 2, 2.5], "format": ".1f"}},
        "y": {"field": "y", "type": "quantitative", "scale": {"domain": [-0.103, 2.163], "nice": false, "zero": false},
              "axis": {"title": "Density", "values": [0, 0.5, 1, 1.5, 2], "format": ".1f"}},
        "color": {"field": "s", "type": "nominal", "scale": {"domain": ["CT", "SCT"], "range": ["#0000ff", "#ff0000"]}}
      }
    },
    {"width": 149, "height": 1, "data": {"values": []}, "mark": "point"},
    {
      "width": 378, "height": 251,
      "view": {"stroke": "#262626", "strokeWidth": 1},
      "title": "TALUS 2",
      "encoding": {
        "x": {"field": "group", "type": "nominal", "scale": {"type": "point", "domain": ["CT", "SCT"], "padding": 0.5},
              "axis": {"title": null, "labelAngle": 0, "labelFontSize": 9.5}}
      },
      "layer": [
        {
          "data": {"name": "boxes"}, "transform": [{"filter": "datum.panel === 'b3'"}],
          "mark": {"type": "rule", "color": "#333333", "strokeWidth": 1},
          "encoding": {
            "y": {"field": "lo", "type": "quantitative", "title": "Von Mises (MPa)", "scale": {"domain": [-0.09, 2.78], "nice": false, "zero": false},
                  "axis": {"values": [0, 0.5, 1, 1.5, 2, 2.5], "format": ".1f", "labelFontSize": 9.5, "titleFontSize": 9, "titlePadding": 7, "labelOverlap": false}},
            "y2": {"field": "q1"}
          }
        },
        {
          "data": {"name": "boxes"}, "transform": [{"filter": "datum.panel === 'b3'"}],
          "mark": {"type": "rule", "color": "#333333", "strokeWidth": 1},
          "encoding": {
            "y": {"field": "q3", "type": "quantitative", "title": "Von Mises (MPa)", "scale": {"domain": [-0.09, 2.78], "nice": false, "zero": false},
                  "axis": {"values": [0, 0.5, 1, 1.5, 2, 2.5], "format": ".1f", "labelFontSize": 9.5, "titleFontSize": 9, "titlePadding": 7, "labelOverlap": false}},
            "y2": {"field": "hi"}
          }
        },
        {
          "data": {"name": "boxes"}, "transform": [{"filter": "datum.panel === 'b3'"}],
          "mark": {"type": "bar", "size": 28, "fill": "white", "stroke": "#333333", "strokeWidth": 1},
          "encoding": {
            "y": {"field": "q1", "type": "quantitative", "title": "Von Mises (MPa)", "scale": {"domain": [-0.09, 2.78], "nice": false, "zero": false},
                  "axis": {"values": [0, 0.5, 1, 1.5, 2, 2.5], "format": ".1f", "labelFontSize": 9.5, "titleFontSize": 9, "titlePadding": 7, "labelOverlap": false}},
            "y2": {"field": "q3"}
          }
        },
        {
          "data": {"name": "boxes"}, "transform": [{"filter": "datum.panel === 'b3'"}],
          "mark": {"type": "tick", "size": 14, "thickness": 1, "color": "#333333"},
          "encoding": {"y": {"field": "lo", "type": "quantitative", "title": "Von Mises (MPa)", "scale": {"domain": [-0.09, 2.78], "nice": false, "zero": false},
                  "axis": {"values": [0, 0.5, 1, 1.5, 2, 2.5], "format": ".1f", "labelFontSize": 9.5, "titleFontSize": 9, "titlePadding": 7, "labelOverlap": false}}}
        },
        {
          "data": {"name": "boxes"}, "transform": [{"filter": "datum.panel === 'b3'"}],
          "mark": {"type": "tick", "size": 14, "thickness": 1, "color": "#333333"},
          "encoding": {"y": {"field": "hi", "type": "quantitative", "title": "Von Mises (MPa)", "scale": {"domain": [-0.09, 2.78], "nice": false, "zero": false},
                  "axis": {"values": [0, 0.5, 1, 1.5, 2, 2.5], "format": ".1f", "labelFontSize": 9.5, "titleFontSize": 9, "titlePadding": 7, "labelOverlap": false}}}
        },
        {
          "data": {"name": "boxes"}, "transform": [{"filter": "datum.panel === 'b3'"}],
          "mark": {"type": "tick", "size": 27, "thickness": 1.2, "color": "#ff8c1a"},
          "encoding": {"y": {"field": "med", "type": "quantitative", "title": "Von Mises (MPa)", "scale": {"domain": [-0.09, 2.78], "nice": false, "zero": false},
                  "axis": {"values": [0, 0.5, 1, 1.5, 2, 2.5], "format": ".1f", "labelFontSize": 9.5, "titleFontSize": 9, "titlePadding": 7, "labelOverlap": false}}}
        },
        {
          "data": {"name": "fliers"}, "transform": [{"filter": "datum.panel === 'b3'"}],
          "mark": {"type": "point", "shape": "circle", "filled": false, "size": 30, "stroke": "#222222", "strokeWidth": 1},
          "encoding": {"y": {"field": "v", "type": "quantitative", "title": "Von Mises (MPa)", "scale": {"domain": [-0.09, 2.78], "nice": false, "zero": false},
                  "axis": {"values": [0, 0.5, 1, 1.5, 2, 2.5], "format": ".1f", "labelFontSize": 9.5, "titleFontSize": 9, "titlePadding": 7, "labelOverlap": false}}}
        }
      ]
    },
    {"width": 74, "height": 1, "data": {"values": []}, "mark": "point"},
    {
      "width": 144, "height": 251,
      "data": {"name": "cells"},
      "transform": [{"filter": "datum.cell === 'r3'"}],
      "mark": {"type": "text", "fontSize": 14, "fontWeight": "bold", "color": "#000000", "lineBreak": "\n", "lineHeight": 26, "baseline": "middle", "dy": -23},
      "encoding": {"text": {"field": "t", "type": "nominal"}}
    }
  ]
}
